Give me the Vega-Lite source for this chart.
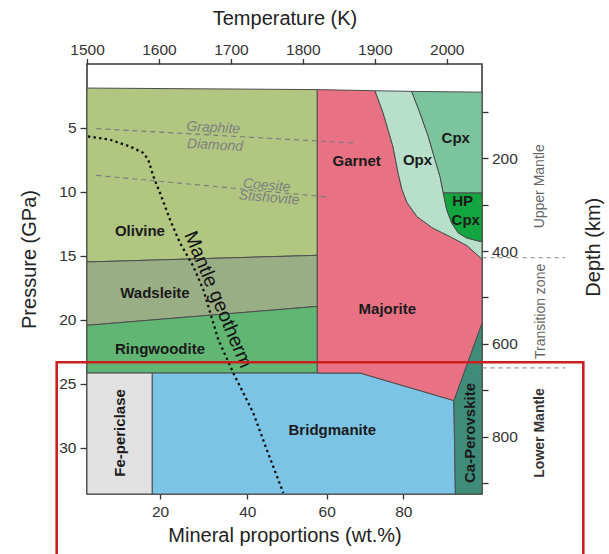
{
  "$schema": "https://vega.github.io/schema/vega-lite/v6.json",
  "width": 395,
  "height": 430,
  "autosize": "none",
  "padding": {"left": 87, "top": 64, "right": 127, "bottom": 60},
  "config": {
    "font": "Liberation Sans",
    "view": {"stroke": "#3a3a3a", "strokeWidth": 1.6},
    "axis": {"domain": false, "grid": false, "tickColor": "#333", "labelColor": "#333", "titleColor": "#222", "titleFontWeight": "normal", "labelFontSize": 15.5, "titleFontSize": 20, "labelFont": "Liberation Sans", "titleFont": "Liberation Sans", "tickWidth": 1.3, "labelFlush": false}
  },
  "datasets": {
    "regions": [
      {"region": "Olivine", "o": 1, "x": 3.35, "y": 1.88},
      {"region": "Olivine", "o": 2, "x": 57.63, "y": 2.0},
      {"region": "Olivine", "o": 3, "x": 57.63, "y": 14.95},
      {"region": "Olivine", "o": 4, "x": 3.35, "y": 15.47},
      {"region": "Wadsleite", "o": 1, "x": 3.35, "y": 15.47},
      {"region": "Wadsleite", "o": 2, "x": 57.63, "y": 14.95},
      {"region": "Wadsleite", "o": 3, "x": 57.63, "y": 18.94},
      {"region": "Wadsleite", "o": 4, "x": 3.35, "y": 20.42},
      {"region": "Ringwoodite", "o": 1, "x": 3.35, "y": 20.42},
      {"region": "Ringwoodite", "o": 2, "x": 57.63, "y": 18.94},
      {"region": "Ringwoodite", "o": 3, "x": 57.63, "y": 24.15},
      {"region": "Ringwoodite", "o": 4, "x": 3.35, "y": 24.15},
      {"region": "Fe-periclase", "o": 1, "x": 3.35, "y": 24.15},
      {"region": "Fe-periclase", "o": 2, "x": 18.24, "y": 24.15},
      {"region": "Fe-periclase", "o": 3, "x": 18.24, "y": 33.6},
      {"region": "Fe-periclase", "o": 4, "x": 3.35, "y": 33.6},
      {"region": "Bridgmanite", "o": 1, "x": 18.24, "y": 24.15},
      {"region": "Bridgmanite", "o": 2, "x": 68.7, "y": 24.15},
      {"region": "Bridgmanite", "o": 3, "x": 93.2, "y": 26.3},
      {"region": "Bridgmanite", "o": 4, "x": 93.6, "y": 33.6},
      {"region": "Bridgmanite", "o": 5, "x": 18.24, "y": 33.6},
      {"region": "Ca-Perovskite", "o": 1, "x": 93.2, "y": 26.3},
      {"region": "Ca-Perovskite", "o": 2, "x": 100.55, "y": 20.23},
      {"region": "Ca-Perovskite", "o": 3, "x": 100.55, "y": 33.6},
      {"region": "Ca-Perovskite", "o": 4, "x": 93.6, "y": 33.6},
      {"region": "Garnet", "o": 1, "x": 57.63, "y": 2.0},
      {"region": "Garnet", "o": 2, "x": 72.61, "y": 2.09},
      {"region": "Garnet", "o": 3, "x": 74.7, "y": 3.8},
      {"region": "Garnet", "o": 4, "x": 77.31, "y": 6.46},
      {"region": "Garnet", "o": 5, "x": 78.62, "y": 8.49},
      {"region": "Garnet", "o": 6, "x": 79.66, "y": 9.82},
      {"region": "Garnet", "o": 7, "x": 80.99, "y": 10.84},
      {"region": "Garnet", "o": 8, "x": 83.6, "y": 11.93},
      {"region": "Garnet", "o": 9, "x": 87.52, "y": 12.79},
      {"region": "Garnet", "o": 10, "x": 92.22, "y": 13.49},
      {"region": "Garnet", "o": 11, "x": 96.66, "y": 14.2},
      {"region": "Garnet", "o": 12, "x": 100.55, "y": 15.25},
      {"region": "Garnet", "o": 13, "x": 100.55, "y": 20.23},
      {"region": "Garnet", "o": 14, "x": 93.2, "y": 26.3},
      {"region": "Garnet", "o": 15, "x": 68.7, "y": 24.15},
      {"region": "Garnet", "o": 16, "x": 57.63, "y": 24.15},
      {"region": "Opx", "o": 1, "x": 72.61, "y": 2.09},
      {"region": "Opx", "o": 2, "x": 82.19, "y": 2.14},
      {"region": "Opx", "o": 3, "x": 84.36, "y": 3.83},
      {"region": "Opx", "o": 4, "x": 86.52, "y": 5.66},
      {"region": "Opx", "o": 5, "x": 88.28, "y": 7.48},
      {"region": "Opx", "o": 6, "x": 89.58, "y": 8.78},
      {"region": "Opx", "o": 7, "x": 90.44, "y": 10.08},
      {"region": "Opx", "o": 8, "x": 91.33, "y": 11.38},
      {"region": "Opx", "o": 9, "x": 92.64, "y": 12.42},
      {"region": "Opx", "o": 10, "x": 94.36, "y": 13.2},
      {"region": "Opx", "o": 11, "x": 96.55, "y": 13.59},
      {"region": "Opx", "o": 12, "x": 100.03, "y": 13.86},
      {"region": "Opx", "o": 13, "x": 100.55, "y": 13.86},
      {"region": "Opx", "o": 14, "x": 100.55, "y": 15.25},
      {"region": "Opx", "o": 15, "x": 96.66, "y": 14.2},
      {"region": "Opx", "o": 16, "x": 92.22, "y": 13.49},
      {"region": "Opx", "o": 17, "x": 87.52, "y": 12.79},
      {"region": "Opx", "o": 18, "x": 83.6, "y": 11.93},
      {"region": "Opx", "o": 19, "x": 80.99, "y": 10.84},
      {"region": "Opx", "o": 20, "x": 79.66, "y": 9.82},
      {"region": "Opx", "o": 21, "x": 78.62, "y": 8.49},
      {"region": "Opx", "o": 22, "x": 77.31, "y": 6.46},
      {"region": "Opx", "o": 23, "x": 74.7, "y": 3.8},
      {"region": "Cpx", "o": 1, "x": 82.19, "y": 2.14},
      {"region": "Cpx", "o": 2, "x": 100.55, "y": 2.2},
      {"region": "Cpx", "o": 3, "x": 100.55, "y": 10.08},
      {"region": "Cpx", "o": 4, "x": 90.44, "y": 10.08},
      {"region": "Cpx", "o": 5, "x": 89.58, "y": 8.78},
      {"region": "Cpx", "o": 6, "x": 88.28, "y": 7.48},
      {"region": "Cpx", "o": 7, "x": 86.52, "y": 5.66},
      {"region": "Cpx", "o": 8, "x": 84.36, "y": 3.83},
      {"region": "HP Cpx", "o": 1, "x": 90.44, "y": 10.08},
      {"region": "HP Cpx", "o": 2, "x": 100.55, "y": 10.08},
      {"region": "HP Cpx", "o": 3, "x": 100.55, "y": 13.86},
      {"region": "HP Cpx", "o": 4, "x": 100.03, "y": 13.86},
      {"region": "HP Cpx", "o": 5, "x": 96.55, "y": 13.59},
      {"region": "HP Cpx", "o": 6, "x": 94.36, "y": 13.2},
      {"region": "HP Cpx", "o": 7, "x": 92.64, "y": 12.42},
      {"region": "HP Cpx", "o": 8, "x": 91.33, "y": 11.38}
    ],
    "geotherm": [
      {"o": 1, "x": 3.57, "y": 5.66},
      {"o": 2, "x": 8.55, "y": 5.91},
      {"o": 3, "x": 13.13, "y": 6.44},
      {"o": 4, "x": 16.18, "y": 6.95},
      {"o": 5, "x": 17.33, "y": 7.48},
      {"o": 6, "x": 18.49, "y": 8.78},
      {"o": 7, "x": 20.0, "y": 10.08},
      {"o": 8, "x": 22.29, "y": 12.16},
      {"o": 9, "x": 24.58, "y": 13.98},
      {"o": 10, "x": 27.63, "y": 15.81},
      {"o": 11, "x": 29.92, "y": 17.63},
      {"o": 12, "x": 33.36, "y": 21.54},
      {"o": 13, "x": 36.79, "y": 24.14},
      {"o": 14, "x": 41.51, "y": 27.27},
      {"o": 15, "x": 44.89, "y": 30.13},
      {"o": 16, "x": 49.08, "y": 33.52}
    ],
    "phase": [
      {"name": "Graphite-Diamond", "x": 5.5, "y": 5.05},
      {"name": "Graphite-Diamond", "x": 66.95, "y": 6.17},
      {"name": "Coesite-Stishovite", "x": 5.5, "y": 8.7},
      {"name": "Coesite-Stishovite", "x": 60.0, "y": 10.39}
    ],
    "labels": [
      {"label": "Olivine", "x": 15.42, "y": 13.08},
      {"label": "Wadsleite", "x": 18.85, "y": 17.89},
      {"label": "Ringwoodite", "x": 20.0, "y": 22.27},
      {"label": "Bridgmanite", "x": 61.46, "y": 28.57},
      {"label": "Garnet", "x": 67.83, "y": 7.61},
      {"label": "Opx", "x": 83.7, "y": 7.48},
      {"label": "Cpx", "x": 93.7, "y": 5.78},
      {"label": "HP", "x": 95.5, "y": 10.73},
      {"label": "Cpx", "x": 96.3, "y": 12.16},
      {"label": "Majorite", "x": 75.82, "y": 19.14}
    ],
    "vlabels": [
      {"label": "Fe-periclase", "x": 10.84, "y": 28.83},
      {"label": "Ca-Perovskite", "x": 97.41, "y": 28.83}
    ],
    "zones": [
      {"label": "Upper Mantle", "x": 115.7, "y": 9.56},
      {"label": "Transition zone", "x": 115.9, "y": 19.33}
    ],
    "zonerules": [
      {"x": 100.7, "x2": 122.2, "y": 15.13},
      {"x": 100.7, "x2": 122.2, "y": 23.75}
    ]
  },
  "layer": [
    {
      "encoding": {
        "x": {"field": "x", "type": "quantitative",
          "scale": {"domain": [3.35, 20, 40, 60, 80, 100.55], "range": [0, 73, 160.3, 239.7, 316.3, 395], "nice": false, "zero": false},
          "axis": {"orient": "bottom", "values": [20, 40, 60, 80], "title": "Mineral proportions (wt.%)", "tickSize": 5, "labelPadding": 5.5, "titleBaseline": "middle", "titleY": 41.5}},
        "y": {"field": "y", "type": "quantitative",
          "scale": {"domain": [0, 33.6], "reverse": true, "nice": false, "zero": false},
          "axis": {"orient": "left", "values": [5, 10, 15, 20, 25, 30], "title": "Pressure (GPa)", "tickSize": 7, "labelPadding": 4, "titleAngle": 270, "titleBaseline": "middle", "titleX": -57.5, "titleY": 195}}
      },
      "layer": [
        {
          "data": {"name": "regions"},
          "mark": {"type": "line", "interpolate": "linear-closed", "stroke": "#4d4d4d", "strokeWidth": 1, "strokeJoin": "round"},
          "encoding": {
            "fill": {"field": "region", "type": "nominal", "legend": null,
              "scale": {"domain": ["Olivine", "Wadsleite", "Ringwoodite", "Fe-periclase", "Bridgmanite", "Ca-Perovskite", "Garnet", "Opx", "Cpx", "HP Cpx"],
                        "range": ["#b1c681", "#9aae85", "#62b673", "#e1e1e1", "#7bc4e6", "#3f8c78", "#e87284", "#b7dfca", "#7cc49e", "#13a53f"]}},
            "order": {"field": "o", "type": "quantitative"}
          }
        },
        {
          "data": {"name": "phase"},
          "mark": {"type": "line", "stroke": "#7a7a7a", "strokeWidth": 1.1, "strokeDash": [5, 4]},
          "encoding": {"detail": {"field": "name", "type": "nominal"}}
        },
        {
          "data": {"name": "geotherm"},
          "mark": {"type": "line", "stroke": "#111111", "strokeWidth": 2.3, "strokeDash": [2.4, 3.2]},
          "encoding": {"order": {"field": "o", "type": "quantitative"}}
        },
        {
          "data": {"values": [{"label": "Graphite", "x": 32.2, "y": 5.0}, {"label": "Diamond", "x": 32.6, "y": 6.36}]},
          "mark": {"type": "text", "fontSize": 14, "fontStyle": "italic", "color": "#7f7f7f", "angle": 3, "align": "center", "baseline": "middle"},
          "encoding": {"text": {"field": "label"}}
        },
        {
          "data": {"values": [{"label": "Coesite", "x": 44.9, "y": 9.51}, {"label": "Stishovite", "x": 45.5, "y": 10.47}]},
          "mark": {"type": "text", "fontSize": 14, "fontStyle": "italic", "color": "#7f7f7f", "angle": 5, "align": "center", "baseline": "middle"},
          "encoding": {"text": {"field": "label"}}
        },
        {
          "data": {"values": [{"label": "Mantle geotherm", "x": 33.3, "y": 18.41}]},
          "mark": {"type": "text", "fontSize": 19.5, "color": "#111111", "angle": 67, "align": "center", "baseline": "middle"},
          "encoding": {"text": {"field": "label"}}
        },
        {
          "data": {"name": "labels"},
          "mark": {"type": "text", "fontSize": 15, "fontWeight": "bold", "color": "#1a1a1a", "align": "center", "baseline": "middle"},
          "encoding": {"text": {"field": "label"}}
        },
        {
          "data": {"name": "vlabels"},
          "mark": {"type": "text", "fontSize": 15, "fontWeight": "bold", "color": "#1a1a1a", "angle": 270, "align": "center", "baseline": "middle"},
          "encoding": {"text": {"field": "label"}}
        },
        {
          "data": {"name": "zones"},
          "mark": {"type": "text", "fontSize": 14, "color": "#666666", "angle": 270, "align": "center", "baseline": "middle"},
          "encoding": {"text": {"field": "label"}}
        },
        {
          "data": {"values": [{"label": "Lower Mantle", "x": 115.7, "y": 28.83}]},
          "mark": {"type": "text", "fontSize": 14, "fontWeight": "bold", "color": "#333333", "angle": 270, "align": "center", "baseline": "middle"},
          "encoding": {"text": {"field": "label"}}
        },
        {
          "data": {"name": "zonerules"},
          "mark": {"type": "rule", "stroke": "#9a9a9a", "strokeWidth": 1.2, "strokeDash": [4, 4]},
          "encoding": {"x2": {"field": "x2"}}
        },
        {
          "data": {"values": [{"x": -3.56, "x2": 127.0, "y": 23.31, "y2": 45}]},
          "mark": {"type": "rect", "fill": "#ffffff", "fillOpacity": 0, "stroke": "#cc1f1f", "strokeWidth": 2.6},
          "encoding": {"x2": {"field": "x2"}, "y2": {"field": "y2"}}
        }
      ]
    },
    {
      "data": {"values": [{"T": 1500, "D": 0}, {"T": 2000, "D": 900}]},
      "mark": {"type": "point", "opacity": 0},
      "encoding": {
        "x": {"field": "T", "type": "quantitative",
          "scale": {"domain": [1500, 2049], "nice": false, "zero": false},
          "axis": {"orient": "top", "values": [1500, 1600, 1700, 1800, 1900, 2000], "format": "d", "title": "Temperature (K)", "tickSize": 5.5, "labelPadding": 1, "titleBaseline": "middle", "titleY": -46}},
        "y": {"field": "D", "type": "quantitative",
          "scale": {"domain": [-3.2, 923.5], "reverse": true, "nice": false, "zero": false},
          "axis": {"orient": "right", "values": [100, 200, 300, 400, 500, 600, 700, 800, 900], "format": "d", "labelExpr": "datum.value % 200 === 0 ? datum.label : ''", "title": "Depth (km)", "tickSize": 6, "labelPadding": 3.5, "titleAngle": 270, "titleBaseline": "middle", "titleX": 111.3, "titleY": 182.7}}
      }
    }
  ],
  "resolve": {"scale": {"x": "independent", "y": "independent"}}
}
